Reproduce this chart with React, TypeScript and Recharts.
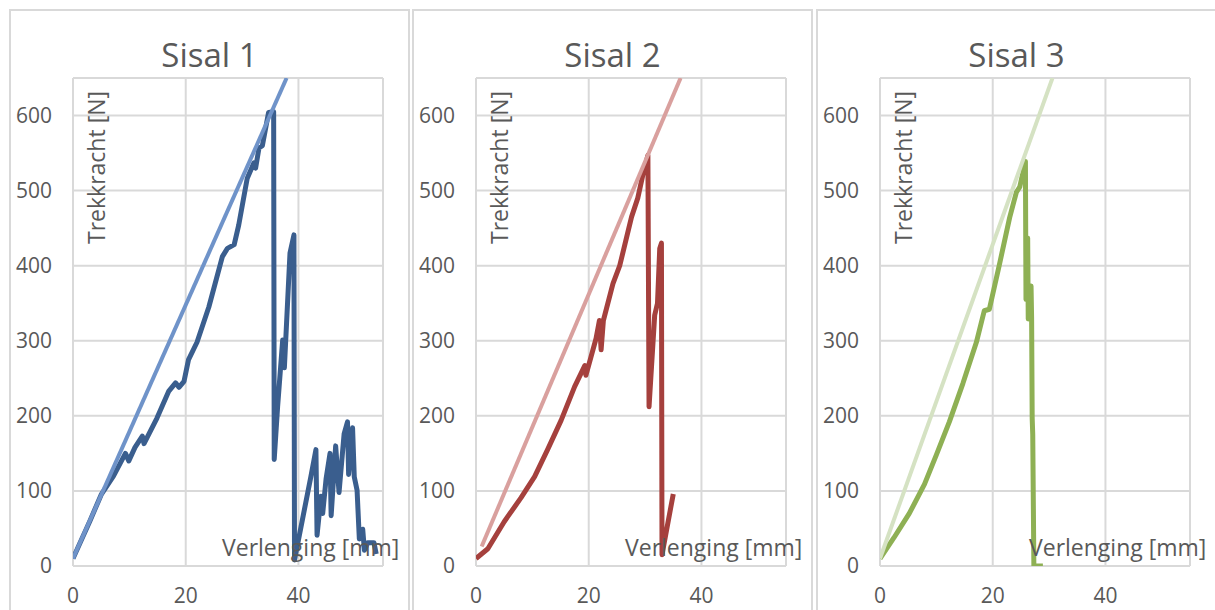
import { LineChart, Line, XAxis, YAxis, CartesianGrid } from 'recharts'

const xTicks = [0, 20, 40]
const yTicks = [0, 100, 200, 300, 400, 500, 600]

// measured force/elongation curves, [mm, N]
const sisal1Curve: [number, number][] = [
  [0, 10], [3, 60], [5, 95], [7.2, 120], [9.3, 150], [9.9, 140], [11, 158], [12.3, 173],
  [12.6, 163], [14.9, 197], [17, 233], [18.2, 244], [18.8, 238], [19.7, 246], [20.5, 275],
  [22, 298], [24.1, 345], [26.5, 412], [27.4, 423], [28.6, 428], [29.4, 454], [30.9, 516],
  [32.1, 537], [32.4, 530], [33, 557], [33.6, 560], [34.7, 604], [35.6, 605], [35.7, 142],
  [36.3, 212], [37.2, 301], [37.5, 264], [38.5, 417], [39.2, 441], [39.3, 8], [42.2, 119],
  [43.1, 155], [43.3, 41], [44, 93], [44.3, 70], [44.9, 116], [45.6, 150], [45.8, 67],
  [46.6, 160], [47.2, 98], [48.1, 176], [48.7, 192], [48.9, 122], [49.6, 184], [49.9, 119],
  [50.4, 101], [50.8, 36], [51.4, 49], [51.7, 21], [52.3, 31], [53.4, 31], [53.8, 16],
]
const sisal2Curve: [number, number][] = [
  [0, 10], [2.1, 23], [5, 59], [8, 91], [10.4, 119], [12.7, 155], [15.1, 194], [17.5, 239],
  [19.3, 267], [19.5, 254], [21.3, 303], [21.9, 327], [22.2, 288], [22.6, 327], [24.3, 376],
  [25.5, 400], [27.6, 465], [28.7, 490], [29.6, 521], [30.5, 547], [30.7, 212], [31.7, 334],
  [32.2, 350], [32.6, 423], [32.9, 430], [33, 15], [35, 96],
]
const sisal3Curve: [number, number][] = [
  [0, 10], [2.5, 38], [5.2, 70], [7.9, 109], [10, 148], [12.3, 192], [14.7, 243], [17.1, 298],
  [18.5, 340], [19.4, 342], [21.2, 402], [23, 464], [24.2, 498], [24.8, 505], [25.8, 539],
  [25.9, 355], [26.2, 437], [26.3, 329], [26.8, 373], [26.9, 330], [27, 197], [27.1, 175],
  [27.3, 0], [28.9, 0],
]

// linear fits
const sisal1Fit: [number, number][] = [[0, 10], [37.9, 650]]
const sisal2Fit: [number, number][] = [[1, 26], [36.3, 650]]
const sisal3Fit: [number, number][] = [[0, 10], [30.6, 650]]

const TEXT = '#595959'
const FONT = '"Open Sans", sans-serif'

const panels = [
  { title: 'Sisal 1', left: 9, curve: sisal1Curve, fit: sisal1Fit, color: '#3a5e8e', fitColor: '#6f93c9' },
  { title: 'Sisal 2', left: 412, curve: sisal2Curve, fit: sisal2Fit, color: '#a5403d', fitColor: '#d9a09e' },
  { title: 'Sisal 3', left: 816, curve: sisal3Curve, fit: sisal3Fit, color: '#8eb054', fitColor: '#d5e2c3' },
]

const toPoints = (pts: [number, number][]) => pts.map(([x, y]) => ({ x, y }))

function YTitle({ viewBox }: any) {
  if (!viewBox) return null
  const tx = viewBox.x + viewBox.width + 32
  const ty = viewBox.y + 13
  return (
    <text x={tx} y={ty} transform={`rotate(-90 ${tx} ${ty})`} textAnchor="end" fill={TEXT} fontSize={23} fontFamily={FONT}>
      Trekkracht [N]
    </text>
  )
}

function XTitle({ viewBox }: any) {
  if (!viewBox) return null
  return (
    <text x={viewBox.x + 149} y={viewBox.y - 10} fill={TEXT} fontSize={23} fontFamily={FONT}>
      Verlenging [mm]
    </text>
  )
}

function Panel({ p }: { p: (typeof panels)[number] }) {
  return (
    <>
      <div
        style={{
          position: 'absolute',
          left: p.left,
          top: 9,
          width: 401,
          height: 640,
          border: '2px solid #d9d9d9',
          boxSizing: 'border-box',
        }}
      />
      <div
        style={{
          position: 'absolute',
          left: p.left,
          top: 38,
          width: 401,
          textAlign: 'center',
          fontFamily: FONT,
          fontSize: 33,
          lineHeight: 1,
          color: TEXT,
        }}
      >
        {p.title}
      </div>
      <div style={{ position: 'absolute', left: p.left, top: 0 }}>
        <LineChart width={401} height={610} margin={{ top: 78, right: 27, bottom: 4, left: 0 }}>
          <CartesianGrid stroke="#d9d9d9" strokeWidth={2} />
          <XAxis
            type="number"
            dataKey="x"
            domain={[0, 55]}
            ticks={xTicks}
            interval={0}
            allowDataOverflow
            axisLine={false}
            tickLine={false}
            tickSize={0}
            tickMargin={22}
            height={40}
            tick={{ fill: TEXT, fontSize: 21, fontFamily: FONT }}
            label={<XTitle />}
          />
          <YAxis
            type="number"
            domain={[0, 650]}
            ticks={yTicks}
            interval={0}
            allowDataOverflow
            axisLine={false}
            tickLine={false}
            tickSize={0}
            tickMargin={21}
            width={64}
            tick={{ fill: TEXT, fontSize: 21, fontFamily: FONT }}
            label={<YTitle />}
          />
          <Line
            data={toPoints(p.curve)}
            dataKey="y"
            stroke={p.color}
            strokeWidth={5}
            strokeLinejoin="round"
            dot={false}
            activeDot={false}
            isAnimationActive={false}
          />
          <Line
            data={toPoints(p.fit)}
            dataKey="y"
            stroke={p.fitColor}
            strokeWidth={4}
            dot={false}
            activeDot={false}
            isAnimationActive={false}
          />
        </LineChart>
      </div>
    </>
  )
}

export default function App() {
  return (
    <div
      style={{
        position: 'absolute',
        left: 0,
        top: 0,
        width: 1215,
        height: 610,
        overflow: 'hidden',
        background: '#fff',
      }}
    >
      {panels.map((p) => (
        <Panel key={p.title} p={p} />
      ))}
    </div>
  )
}
